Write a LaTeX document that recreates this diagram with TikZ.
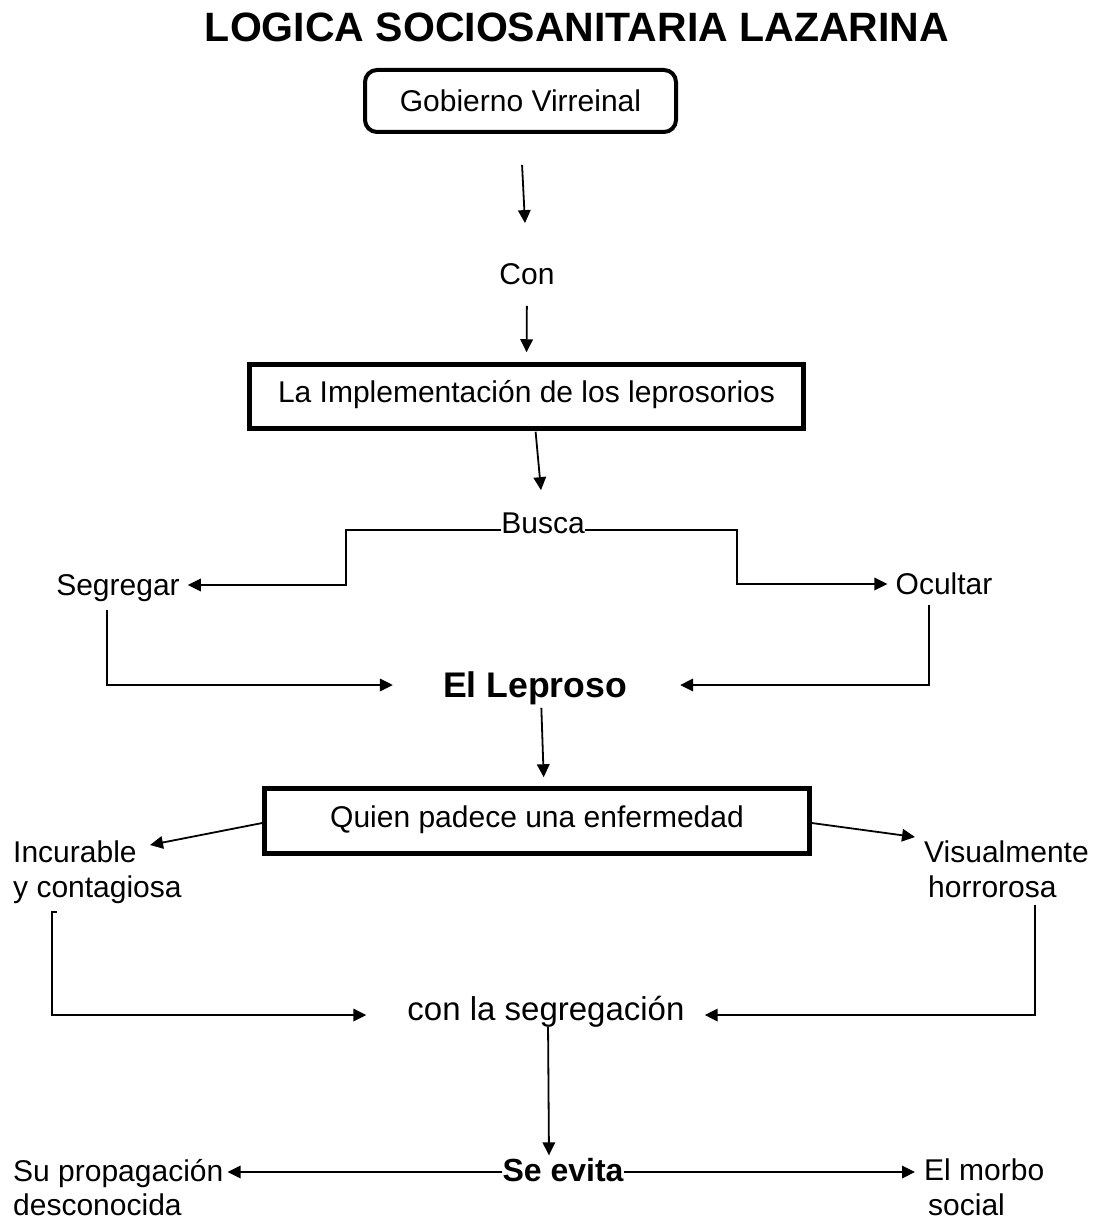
\documentclass[tikz,border=0pt]{standalone}
\usepackage{fontspec}
\setmainfont{Liberation Sans}
\usetikzlibrary{arrows.meta}
\begin{document}
\begin{tikzpicture}[x=1pt,y=-1pt,
  txt/.style={inner sep=0pt, text height=21.5pt, text depth=0pt, font=\fontsize{30}{34}\selectfont},
  two/.style={inner sep=0pt, align=left, anchor=north west, font=\fontsize{30}{34.5}\selectfont},
  box/.style={draw, line width=4.5pt, inner sep=0pt, text height=21.5pt, text depth=0pt, font=\fontsize{30}{34}\selectfont},
  arr/.style={line width=1.8pt, -{Triangle[length=13pt,width=12.5pt]}},
  ln/.style={line width=1.8pt}]
\useasboundingbox (0,0) rectangle (1096,1222);

\node[inner sep=0pt, text height=29.4pt, text depth=0pt, font=\fontsize{41}{48}\selectfont\bfseries] (title) at (577,27) {LOGICA SOCIOSANITARIA LAZARINA};

\node[box, rounded corners=12pt, line width=4pt, minimum width=311pt, minimum height=62pt] (gob) at (520.5,101) {Gobierno Virreinal};
\node[txt] (con) at (527,274) {Con};
\node[box, text depth=9pt, minimum width=554pt, minimum height=64pt] (impl) at (526.5,396.5) {La Implementación de los leprosorios};
\node[txt] (busca) at (543,523) {Busca};
\node[txt] (seg) at (118,585) {Segregar};
\node[txt] (ocu) at (944,584) {Ocultar};
\node[txt, text height=25.5pt, font=\fontsize{35.6}{40}\selectfont\bfseries] (lep) at (535,685) {El Leproso};
\node[box, text depth=8pt, minimum width=545pt, minimum height=65pt] (quien) at (537,821) {Quien padece una enfermedad};
\node[two] (inc) at (13,841) {Incurable\\y contagiosa};
\node[two] (vis) at (924,841) {Visualmente\\\hspace*{4pt}horrorosa};
\node[txt, text height=23.6pt, font=\fontsize{33}{38}\selectfont] (segr) at (546,1009) {con la segregación};
\node[txt, text height=22.9pt, font=\fontsize{32}{36}\selectfont\bfseries] (evita) at (563,1170) {Se evita};
\node[two] (sup) at (13,1159) {Su propagación\\desconocida};
\node[two] (morbo) at (924,1159) {El morbo\\\hspace*{4pt}social};

\coordinate (lb) at (57,912);
\coordinate (rb) at (1035,905);

\draw[arr, shorten <=31pt, shorten >=40pt] (gob.south) -- (con.north);
\draw[arr, shorten <=21pt, shorten >=10pt] (con.south) -- (impl.north);
\draw[arr, shorten <=1pt, shorten >=22pt] ([xshift=9pt]impl.south) -- (busca.north);

\draw[arr, shorten >=8pt] ([yshift=-7pt]busca.west) -- ++(-155,0) |- (seg.east);
\draw[arr, shorten >=8pt] ([yshift=-7pt]busca.east) -- ++(152,0) |- (ocu.west);

\draw[arr, shorten >=50pt] ([xshift=-11pt,yshift=-14pt]seg.south) |- (lep.west);
\draw[arr, shorten >=53pt] ([xshift=-15pt,yshift=-10pt]ocu.south) |- (lep.east);

\draw[arr, shorten <=10pt, shorten >=9pt] ([xshift=6pt]lep.south) -- ([xshift=7pt]quien.north);

\draw[arr] ([yshift=-2pt]quien.west) -- ([xshift=137pt,yshift=-4pt]inc.north west);
\draw[arr] ([yshift=-2pt]quien.east) -- ([xshift=-9pt,yshift=4pt]vis.north west);

\draw[arr, shorten >=41pt] (lb) -- ++(-5,0) |- ([yshift=-6pt]segr.west);
\draw[arr, shorten >=20pt] (rb) |- ([yshift=-6pt]segr.east);

\draw[arr, shorten <=6pt, shorten >=3pt] ([xshift=2pt]segr.south) -- ([xshift=-14pt]evita.north);

\draw[arr, shorten >=4pt] ([yshift=-2pt]evita.west) -- ([yshift=-2pt]evita.west -| sup.east);
\draw[arr, shorten >=9pt] ([yshift=-2pt]evita.east) -- ([yshift=-2pt]evita.east -| morbo.west);
\end{tikzpicture}
\end{document}
